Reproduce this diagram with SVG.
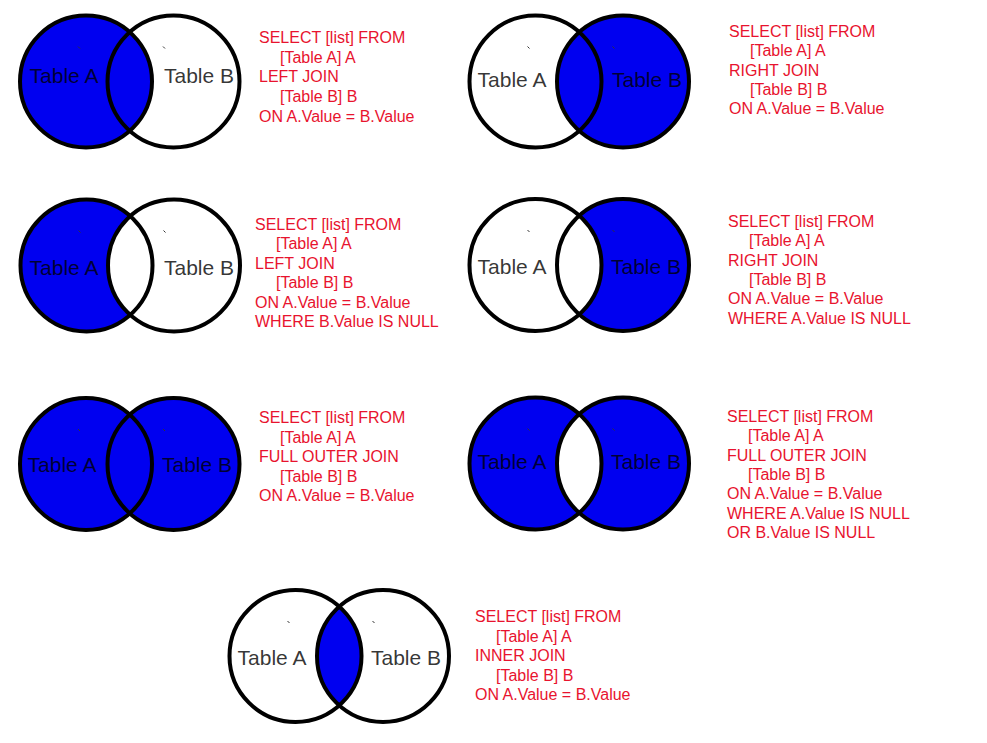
<svg xmlns="http://www.w3.org/2000/svg" width="987" height="743" viewBox="0 0 987 743">
<style>
.bg{fill:#ffffff}
.fill{fill:#0000f0}
.white{fill:#ffffff}
.ring{fill:none;stroke:#000;stroke-width:4}
.lbl{font-family:"Liberation Sans",Arial,sans-serif;font-size:21px;fill:#000;fill-opacity:0.8;text-anchor:middle}
.sql{font-family:"Liberation Sans",Arial,sans-serif;font-size:16px;fill:#e8132e}
.tick{stroke:#333;stroke-width:1}
</style>
<defs>
<clipPath id="clipA"><circle cx="0" cy="0" r="66"/></clipPath>
<circle id="cA" cx="0" cy="0" r="66"/>
<circle id="cB" cx="87.5" cy="0" r="66"/>
<g id="rings">
<use href="#cA" class="ring"/>
<use href="#cB" class="ring"/>
<line class="tick" x1="-8" y1="-35" x2="-6" y2="-33"/>
<line class="tick" x1="77" y1="-35" x2="79" y2="-33"/>
</g>
</defs>
<rect class="bg" x="0" y="0" width="987" height="743"/>

<g id="left-join">
<g transform="translate(86,81.5)">
<use href="#cA" class="fill"/>
<use href="#rings"/>
</g>
<text class="lbl" x="64" y="83">Table A</text>
<text class="lbl" x="199" y="83">Table B</text>
<text class="sql" x="259" y="43">SELECT [list] FROM</text>
<text class="sql" x="280" y="63">[Table A] A</text>
<text class="sql" x="259" y="82">LEFT JOIN</text>
<text class="sql" x="280" y="102">[Table B] B</text>
<text class="sql" x="259" y="122">ON A.Value = B.Value</text>
</g>

<g id="right-join">
<g transform="translate(535.5,81.5)">
<use href="#cB" class="fill"/>
<use href="#rings"/>
</g>
<text class="lbl" x="512" y="87">Table A</text>
<text class="lbl" x="647" y="87">Table B</text>
<text class="sql" x="729" y="37">SELECT [list] FROM</text>
<text class="sql" x="750" y="56">[Table A] A</text>
<text class="sql" x="729" y="76">RIGHT JOIN</text>
<text class="sql" x="750" y="95">[Table B] B</text>
<text class="sql" x="729" y="114">ON A.Value = B.Value</text>
</g>

<g id="left-only">
<g transform="translate(86.5,265.5)">
<use href="#cA" class="fill"/>
<use href="#cB" class="white"/>
<use href="#rings"/>
</g>
<text class="lbl" x="64" y="275">Table A</text>
<text class="lbl" x="199" y="275">Table B</text>
<text class="sql" x="255" y="230">SELECT [list] FROM</text>
<text class="sql" x="276" y="249">[Table A] A</text>
<text class="sql" x="255" y="269">LEFT JOIN</text>
<text class="sql" x="276" y="288">[Table B] B</text>
<text class="sql" x="255" y="308">ON A.Value = B.Value</text>
<text class="sql" x="255" y="327">WHERE B.Value IS NULL</text>
</g>

<g id="right-only">
<g transform="translate(535.5,265)">
<use href="#cB" class="fill"/>
<use href="#cA" class="white"/>
<use href="#rings"/>
</g>
<text class="lbl" x="512" y="274">Table A</text>
<text class="lbl" x="646" y="274">Table B</text>
<text class="sql" x="728" y="227">SELECT [list] FROM</text>
<text class="sql" x="749" y="246">[Table A] A</text>
<text class="sql" x="728" y="266">RIGHT JOIN</text>
<text class="sql" x="749" y="285">[Table B] B</text>
<text class="sql" x="728" y="304">ON A.Value = B.Value</text>
<text class="sql" x="728" y="324">WHERE A.Value IS NULL</text>
</g>

<g id="full-outer">
<g transform="translate(86,464)">
<use href="#cA" class="fill"/>
<use href="#cB" class="fill"/>
<use href="#rings"/>
</g>
<text class="lbl" x="62" y="472">Table A</text>
<text class="lbl" x="197" y="472">Table B</text>
<text class="sql" x="259" y="423">SELECT [list] FROM</text>
<text class="sql" x="280" y="443">[Table A] A</text>
<text class="sql" x="259" y="462">FULL OUTER JOIN</text>
<text class="sql" x="280" y="482">[Table B] B</text>
<text class="sql" x="259" y="501">ON A.Value = B.Value</text>
</g>

<g id="full-outer-exclusive">
<g transform="translate(535.5,463.5)">
<use href="#cA" class="fill"/>
<use href="#cB" class="fill"/>
<use href="#cB" class="white" clip-path="url(#clipA)"/>
<use href="#rings"/>
</g>
<text class="lbl" x="512" y="469">Table A</text>
<text class="lbl" x="646" y="469">Table B</text>
<text class="sql" x="727" y="422">SELECT [list] FROM</text>
<text class="sql" x="748" y="441">[Table A] A</text>
<text class="sql" x="727" y="461">FULL OUTER JOIN</text>
<text class="sql" x="748" y="480">[Table B] B</text>
<text class="sql" x="727" y="499">ON A.Value = B.Value</text>
<text class="sql" x="727" y="519">WHERE A.Value IS NULL</text>
<text class="sql" x="727" y="538">OR B.Value IS NULL</text>
</g>

<g id="inner-join">
<g transform="translate(295.5,656)">
<use href="#cB" class="fill" clip-path="url(#clipA)"/>
<use href="#rings"/>
</g>
<text class="lbl" x="272" y="665">Table A</text>
<text class="lbl" x="406" y="665">Table B</text>
<text class="sql" x="475" y="622">SELECT [list] FROM</text>
<text class="sql" x="496" y="642">[Table A] A</text>
<text class="sql" x="475" y="661">INNER JOIN</text>
<text class="sql" x="496" y="681">[Table B] B</text>
<text class="sql" x="475" y="700">ON A.Value = B.Value</text>
</g>
<g id="connectors"/>
</svg>
